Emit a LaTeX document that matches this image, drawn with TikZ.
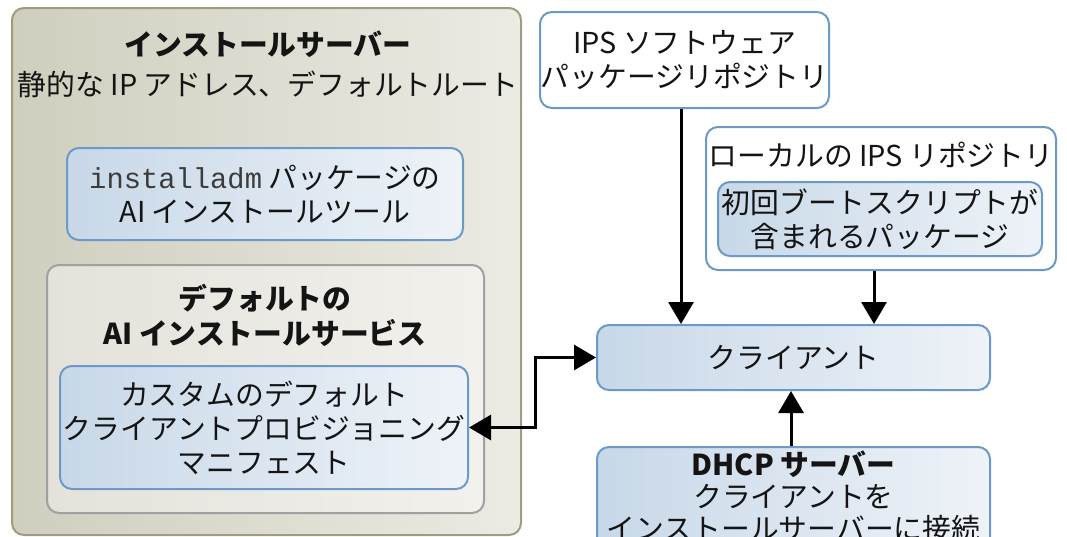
\documentclass[tikz,border=0pt]{standalone}
\usepackage{fontspec}
\setmainfont{Noto Sans CJK JP}
\newfontfamily\monofont{Liberation Mono}
\usetikzlibrary{arrows.meta,positioning}
\definecolor{bluebd}{RGB}{108,154,200}
\definecolor{bluel}{RGB}{200,216,232}
\definecolor{bluer}{RGB}{238,243,248}
\definecolor{outerbd}{RGB}{158,158,126}
\definecolor{outerl}{RGB}{208,206,190}
\definecolor{outerr}{RGB}{236,235,228}
\definecolor{svcbd}{RGB}{160,160,160}
\definecolor{svcl}{RGB}{228,226,218}
\definecolor{svcr}{RGB}{242,241,237}
\definecolor{txt}{RGB}{20,20,20}
\definecolor{monotxt}{RGB}{60,60,60}
\tikzset{
  box/.style={rectangle, rounded corners=12pt, line width=2pt, inner sep=0pt, text=txt, align=center},
  bluebox/.style={box, draw=bluebd, left color=bluel, right color=bluer},
  whitebox/.style={box, draw=bluebd, fill=white},
  outerbox/.style={box, draw=outerbd, left color=outerl, right color=outerr},
  svcbox/.style={box, draw=svcbd, left color=svcl, right color=svcr},
  lbl/.style={text=txt, align=center, inner sep=0pt},
  arr/.style={line width=3pt, -{Triangle[length=22pt,width=25pt]}},
  dblarr/.style={line width=3pt, {Triangle[length=22pt,width=25pt]}-{Triangle[length=22pt,width=25pt]}},
}
\begin{document}
\begin{tikzpicture}[x=1pt,y=-1pt, font=\fontsize{28.8}{34}\selectfont]
\clip (0,0) rectangle (1067,536);
\fill[white] (0,0) rectangle (1067,536);
% install server
\node[outerbox, minimum width=509pt, minimum height=527pt] (server) at (266.5,271.5) {};
\node[lbl, font=\fontsize{28.8}{34}\selectfont\bfseries] (servertitle) at (268,44) {インストールサーバー};
\node[lbl] (serversub) at (268,84) {静的な IP アドレス、デフォルトルート};
\node[bluebox, minimum width=396pt, minimum height=92pt] (tool) at (265,194) {{\monofont\color{monotxt}installadm} パッケージの\\AI インストールツール};
\node[svcbox, minimum width=437pt, minimum height=248pt] (service) at (265.5,389) {};
\node[lbl, font=\fontsize{28.8}{35}\selectfont\bfseries] (servicetitle) at (265,315) {デフォルトの\\AI インストールサービス};
\node[bluebox, minimum width=408pt, minimum height=123pt] (manifest) at (264,427.5) {カスタムのデフォルト\\クライアントプロビジョニング\\マニフェスト};
% right side
\node[whitebox, minimum width=289pt, minimum height=96pt] (ips) at (684.5,60) {IPS ソフトウェア\\パッケージリポジトリ};
\node[whitebox, minimum width=350pt, minimum height=143pt] (local) at (881,198.5) {};
\node[lbl] (localtitle) at (881,155) {ローカルの IPS リポジトリ};
\node[bluebox, minimum width=324pt, minimum height=74pt] (firstboot) at (880,219) {初回ブートスクリプトが\\含まれるパッケージ};
\node[bluebox, minimum width=393pt, minimum height=65pt] (client) at (793.5,357.5) {クライアント};
\node[bluebox, minimum width=393pt, minimum height=113pt] (dhcp) at (793.5,503.5) {};
\node[lbl, font=\fontsize{28.8}{32}\selectfont] (dhcptext) at (793.5,496) {\textbf{DHCP サーバー}\\クライアントを\\インストールサーバーに接続};
% connectors
\coordinate (bend) at (535,0);
\coordinate (ipsdrop) at (681,0);
\coordinate (localdrop) at (874,0);
\coordinate (dhcprise) at (791,0);
\draw[arr] (ipsdrop |- ips.south) -- (ipsdrop |- client.north);
\draw[arr] (localdrop |- local.south) -- (localdrop |- client.north);
\draw[arr] (dhcprise |- dhcp.north) -- (dhcprise |- client.south);
\draw[dblarr] (manifest.east) -- (manifest.east -| bend) |- (client.west);
\end{tikzpicture}
\end{document}
